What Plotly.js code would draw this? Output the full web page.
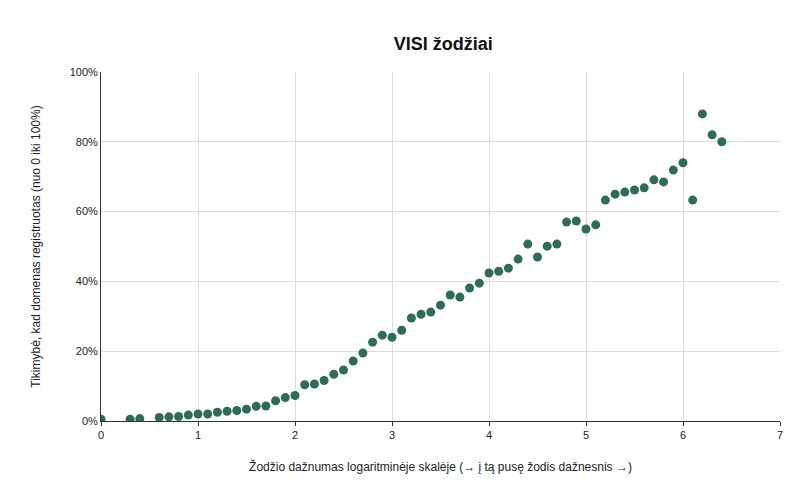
<!DOCTYPE html>
<html>
<head>
<meta charset="utf-8">
<script src="https://cdn.plot.ly/plotly-3.0.1.min.js"></script>
<style>body{margin:0}#plot{width:806px;height:499px}</style>
</head>
<body>
<div id="plot"></div>
<script>
// Žodžio dažnumas (log skalė) ir tikimybė, kad domenas registruotas
const xValues = [0, 0.3, 0.4, 0.6, 0.7, 0.8, 0.9, 1.0, 1.1, 1.2, 1.3, 1.4, 1.5, 1.6, 1.7, 1.8, 1.9, 2.0,
  2.1, 2.2, 2.3, 2.4, 2.5, 2.6, 2.7, 2.8, 2.9, 3.0, 3.1, 3.2, 3.3, 3.4, 3.5, 3.6, 3.7, 3.8, 3.9, 4.0,
  4.1, 4.2, 4.3, 4.4, 4.5, 4.6, 4.7, 4.8, 4.9, 5.0, 5.1, 5.2, 5.3, 5.4, 5.5, 5.6, 5.7, 5.8, 5.9, 6.0,
  6.1, 6.2, 6.3, 6.4]
const yValues = [0.005, 0.005, 0.007, 0.010, 0.012, 0.013, 0.017, 0.020, 0.020, 0.025, 0.028, 0.030, 0.034, 0.042, 0.043, 0.058, 0.067, 0.073,
  0.104, 0.106, 0.116, 0.134, 0.146, 0.172, 0.195, 0.226, 0.246, 0.240, 0.260, 0.295, 0.306, 0.312, 0.332, 0.361, 0.355, 0.381, 0.395, 0.424,
  0.429, 0.438, 0.464, 0.507, 0.470, 0.501, 0.507, 0.570, 0.573, 0.550, 0.562, 0.633, 0.650, 0.656, 0.662, 0.668, 0.691, 0.685, 0.719, 0.740,
  0.633, 0.880, 0.820, 0.800]

const trace = {
  x: xValues,
  y: yValues,
  mode: 'markers',
  type: 'scatter',
  marker: {color: '#2f6b56', size: 9}
}

const layout = {
  width: 806,
  height: 499,
  margin: {l: 101, r: 26, t: 72, b: 78},
  paper_bgcolor: '#ffffff',
  plot_bgcolor: '#ffffff',
  font: {family: '"Liberation Sans", Arial, sans-serif', size: 11, color: '#222'},
  title: {text: '<b>VISI žodžiai</b>', x: 0.55, y: 0.925, font: {size: 18, color: '#111'}},
  showlegend: false,
  xaxis: {
    range: [0, 7], dtick: 1, showgrid: true, gridcolor: '#dcdcdc',
    zeroline: false, showline: true, linecolor: '#333', ticks: 'outside', ticklen: 4, tickcolor: '#333',
    title: {text: 'Žodžio dažnumas logaritminėje skalėje (→ į tą pusę žodis dažnesnis →)', font: {size: 12}, standoff: 22}
  },
  yaxis: {
    range: [0, 1], dtick: 0.2, tickformat: '.0%', showgrid: true, gridcolor: '#dcdcdc',
    zeroline: false, showline: true, linecolor: '#333',
    title: {text: 'Tikimybė, kad domenas registruotas (nuo 0 iki 100%)', font: {size: 12}, standoff: 26}
  }
}

Plotly.newPlot('plot', [trace], layout, {displayModeBar: false})
</script>
</body>
</html>
